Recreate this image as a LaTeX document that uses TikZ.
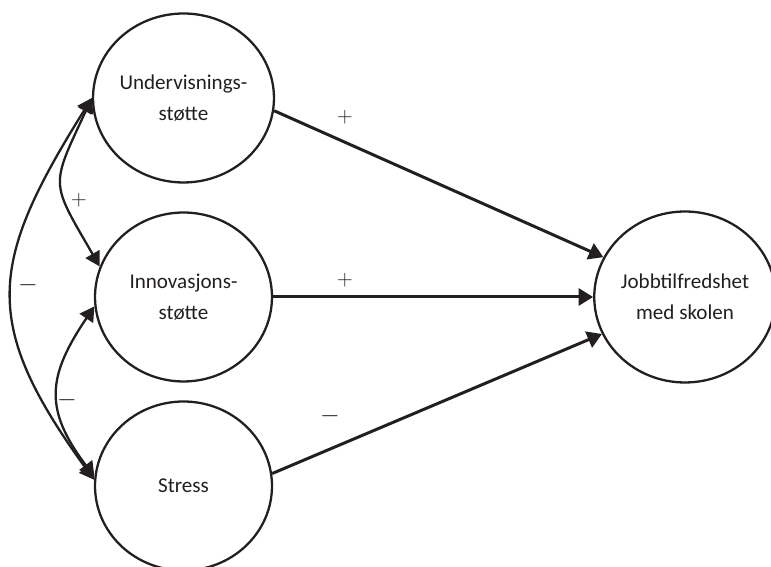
\documentclass[tikz,border=0pt]{standalone}
\usepackage{fontspec}
\setmainfont{Carlito}
\usetikzlibrary{arrows.meta,shapes.geometric}
\definecolor{ink}{RGB}{35,31,32}

\begin{document}
\begin{tikzpicture}[x=0.02cm, y=0.02cm,
		latent/.style={ellipse, draw=ink, line width=1.3pt, minimum width=3.54cm, minimum height=3.38cm, inner sep=0pt, align=center, text=ink, font=\fontsize{12}{17.6}\selectfont},
		effect/.style={draw=ink, line width=1.7pt, -{Triangle[length=2.9mm,width=3.4mm]}},
		cov/.style={draw=ink, line width=1.3pt, {Triangle[length=2.9mm,width=3.2mm]}-{Triangle[length=2.9mm,width=3.2mm]}},
		plus/.style={text=ink, font=\fontsize{12}{14}\selectfont},
		minus/.style={text=ink, font=\fontsize{15}{17}\selectfont}]
		%%%%% START %%%%%
		
		\useasboundingbox (0, 0) rectangle (771, 567);
		
		\node[latent] (und) at (183.5, 469) {Undervisnings-\\støtte};
		\node[latent] (inn) at (183.5, 270) {Innovasjons-\\støtte};
		\node[latent] (str) at (183.5, 81) {Stress};
		\node[latent, minimum width=3.4cm, minimum height=3.42cm] (job) at (685, 270) {Jobbtilfredshet\\med skolen};
		
		\draw[effect] (und.-8) -- (job.154);
		\draw[effect] (inn) -- (job);
		\draw[effect] (str.8) -- (job.-156);
		
		\draw[cov] (und.west) to[out=245, in=120, looseness=1.5] (inn.160);
		\draw[cov] (inn.186) to[out=236, in=127, looseness=1.27] (str.174);
		\draw[cov] (und.west) to[out=238, in=126, looseness=1.3] (str.176);
		
		\node[plus] (s1) at (345, 450) {$+$};
		\node[plus] (s2) at (345, 287) {$+$};
		\node[minus] (s3) at (330, 151) {$-$};
		\node[plus] (s4) at (79, 367) {$+$};
		\node[minus] (s5) at (28, 282) {$-$};
		\node[minus] (s6) at (67, 167) {$-$};
		
		%%%%% END %%%%%
\end{tikzpicture}
\end{document}
